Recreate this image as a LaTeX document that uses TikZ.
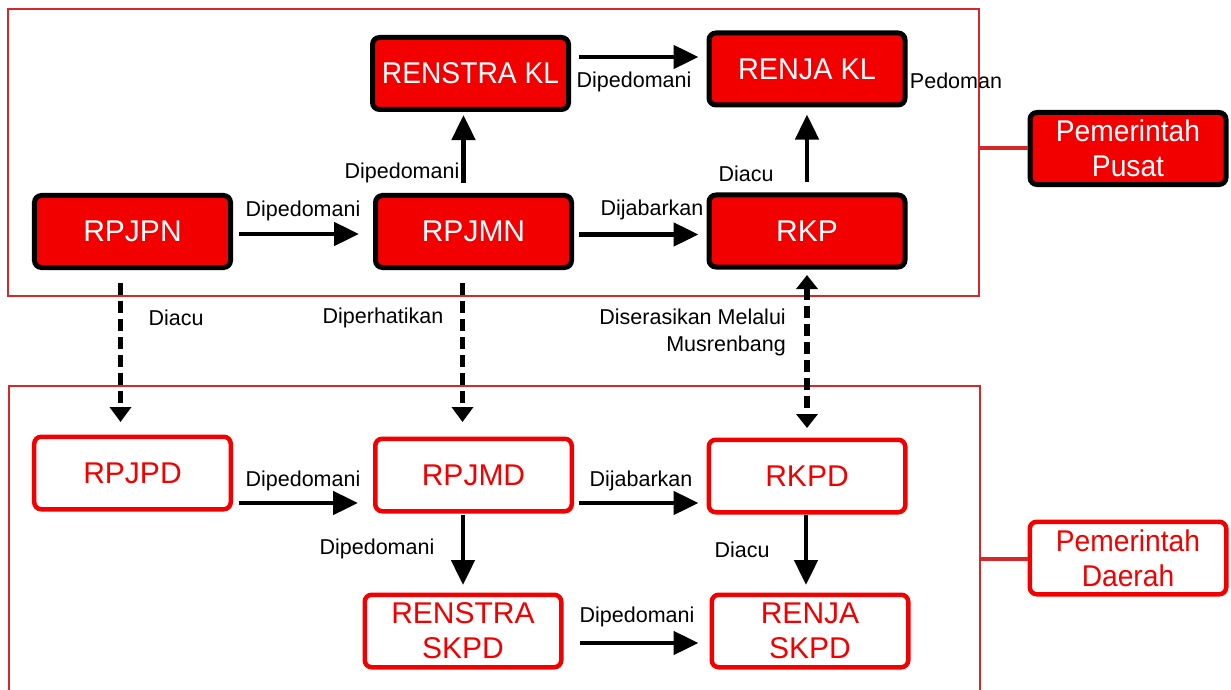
\documentclass[tikz,border=0pt]{standalone}
\usepackage{fontspec}
\usepackage{graphicx}
\setmainfont{Liberation Sans}
\usetikzlibrary{arrows.meta,calc}
\definecolor{boxred}{HTML}{F20000}
\definecolor{framered}{HTML}{D62828}
\begin{document}
\begin{tikzpicture}[x=1bp,y=-1bp,
  big/.style={font=\fontsize{30bp}{35bp}\selectfont, align=center},
  topbox/.style={big, draw=black, line width=5bp, fill=boxred, text=white,
    rounded corners=7bp, minimum width=196bp, minimum height=72bp, inner sep=0pt},
  botbox/.style={big, draw=boxred, line width=4.5bp, fill=white, text=boxred,
    rounded corners=7bp, minimum width=196.5bp, minimum height=72.5bp, inner sep=0pt},
  lbl/.style={font=\fontsize{21.5bp}{27bp}\selectfont, inner sep=0pt, text=black},
  arr/.style={line width=4.8bp, -{Triangle[length=25bp,width=23bp]}},
  darr/.style={line width=5.5bp, dash pattern=on 12bp off 6bp, -{Triangle[length=15bp,width=21bp]}},
  frame/.style={draw=framered, line width=2.5bp},
  link/.style={draw=framered, line width=4bp}
]
\useasboundingbox (0,0) rectangle (1231,690);
% frames
\draw[frame] (8,9) rectangle (979,296);
\draw[frame] (9,700) -- (9,386) -- (980,386) -- (980,700);
% top nodes
\node[topbox] (renstrakl) at (470.5,73.5) {\scalebox{0.94}[1]{RENSTRA KL}};
\node[topbox] (renjakl) at (807,69) {\scalebox{0.96}[1]{RENJA KL}};
\node[topbox] (rpjpn) at (132.5,231.5) {RPJPN};
\node[topbox] (rpjmn) at (473.5,231.5) {RPJMN};
\node[topbox] (rkp) at (807,231) {RKP};
\node[topbox] (pusat) at (1128,148.5) {\scalebox{0.94}[1]{Pemerintah}\\\scalebox{0.94}[1]{Pusat}};
% bottom nodes
\node[botbox] (rpjpd) at (132.5,473) {RPJPD};
\node[botbox] (rpjmd) at (473.5,475) {RPJMD};
\node[botbox] (rkpd) at (807,476) {RKPD};
\node[botbox] (renstraskpd) at (463,631) {RENSTRA\\SKPD};
\node[botbox] (renjaskpd) at (810,631) {RENJA\\SKPD};
\node[botbox] (daerah) at (1128,558) {\scalebox{0.94}[1]{Pemerintah}\\\scalebox{0.94}[1]{Daerah}};
% frame links
\coordinate (tf) at (979,148.5);
\coordinate (bf) at (980,559);
\draw[link] (tf) -- (pusat.west);
\draw[link] (bf) -- (bf -| daerah.west);
% top arrows
\draw[arr] ($(rpjpn.east)+(6,2.5)$) -- ($(rpjmn.west)+(-14,2.5)$);
\draw[arr] ($(rpjmn.east)+(5,3)$) -- ($(rkp.west)+(-8,3.5)$);
\draw[arr] ($(renstrakl.east)+(8,-16.5)$) -- ($(renjakl.west)+(-8,-12)$);
\draw[arr] ($(rpjmn.north)+(-10,-10)$) -- ($(renstrakl.south)+(-7,3)$);
\draw[arr] ($(rkp.north)+(0,-10)$) -- ($(renjakl.south)+(0,7)$);
% dashed arrows
\draw[darr] ($(rpjpn.south)+(-12,13)$) -- ($(rpjpd.north)+(-12,-12.5)$);
\draw[darr] ($(rpjmn.south)+(-11,13)$) -- ($(rpjmd.north)+(-11,-14.5)$);
\draw[darr, {Triangle[length=14bp,width=21bp]}-{Triangle[length=14bp,width=21bp]}] ($(rkp.south)+(0,5.5)$) -- ($(rkpd.north)+(0,-9.5)$);
% bottom arrows
\draw[arr] ($(rpjpd.east)+(6,30)$) -- ($(rpjmd.west)+(-15,28)$);
\draw[arr] ($(rpjmd.east)+(5,28)$) -- ($(rkpd.west)+(-8,27)$);
\draw[arr] ($(rpjmd.south)+(-10.5,1)$) -- ($(renstraskpd.north)+(0,-7.5)$);
\draw[arr] ($(rkpd.south)+(-1,0)$) -- ($(renjaskpd.north)+(-4,-7.5)$);
\draw[arr] ($(renstraskpd.east)+(16,12)$) -- ($(renjaskpd.west)+(-11,12)$);
% labels
\node[lbl] (l1) at (303,211) {Dipedomani};
\node[lbl] (l2) at (402,173) {Dipedomani};
\node[lbl] (l3) at (634,82) {Dipedomani};
\node[lbl] (l4) at (652,210) {Dijabarkan};
\node[lbl] (l5) at (956,81) {Pedoman};
\node[lbl] (l6) at (746,174) {Diacu};
\node[lbl] (l7) at (176,318) {Diacu};
\node[lbl] (l8) at (383,318) {Diperhatikan};
\node[lbl, align=right, anchor=east] (l9) at (786,332) {Diserasikan Melalui\\Musrenbang};
\node[lbl] (l10) at (303,481) {Dipedomani};
\node[lbl] (l11) at (641,481) {Dijabarkan};
\node[lbl] (l12) at (377,549) {Dipedomani};
\node[lbl] (l13) at (742,550) {Diacu};
\node[lbl] (l14) at (637,617) {Dipedomani};
\end{tikzpicture}
\end{document}
